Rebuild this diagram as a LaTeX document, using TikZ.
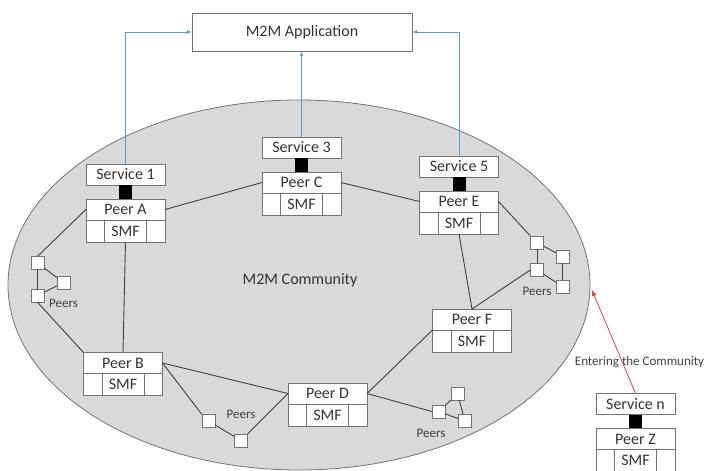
\documentclass[tikz,border=0pt]{standalone}
\usepackage{fontspec}
\setmainfont{Carlito}
\usepackage{tikz}
\usetikzlibrary{positioning,arrows.meta,shapes.geometric,calc}
\definecolor{appblue}{HTML}{5B9BD5}
\definecolor{entred}{HTML}{C0504D}
\tikzset{
  svc/.style={draw=black!55,fill=white,minimum width=79pt,minimum height=21pt,inner sep=0pt,outer sep=0pt,font=\fontsize{16}{18}\selectfont,text=black!80},
  prow/.style={svc},
  smfrow/.style={draw=black!55,fill=white,minimum width=79pt,minimum height=22pt,inner sep=0pt,outer sep=0pt},
  smf/.style={draw=black!55,minimum width=42pt,minimum height=22pt,inner sep=0pt,outer sep=0pt,font=\fontsize{16}{18}\selectfont,text=black!80},
  plug/.style={fill=black,minimum width=13pt,minimum height=14pt,inner sep=0pt,outer sep=0pt},
  sq/.style={draw=black!55,fill=white,minimum size=13pt,inner sep=0pt},
  lnk/.style={black!75,line width=0.9pt},
  up/.style={-{Latex[length=5pt,width=4pt]},appblue,line width=0.8pt},
  enter/.style={-{Latex[length=6pt,width=5pt]},entred,line width=0.8pt},
  tag/.style={font=\fontsize{13}{15}\selectfont,text=black!75}
}
\begin{document}
\begin{tikzpicture}[x=1pt,y=-1pt]
\useasboundingbox (0,0) rectangle (704,471);

% community
\node[ellipse,draw=black!55,fill=black!15,line width=0.8pt,minimum width=582pt,minimum height=370pt] (comm) at (299,285) {};
\node[font=\fontsize{16}{18}\selectfont,text=black!80] (commlbl) at (300,280) {M2M Community};

% application
\node[draw=black!55,fill=white,minimum width=220pt,minimum height=38pt,font=\fontsize{16}{18}\selectfont,text=black!80] (app) at (302,32) {M2M Application};

% peers with a service
\node[svc] (sv1) at (125.5,174.5) {Service 1};
\node[plug, below=0pt of sv1] (k1) {};
\node[prow, below=0pt of k1] (pa) {Peer A};
\node[smfrow, below=0pt of pa] (pas) {};
\node[smf] (pam) at (pas) {SMF};

\node[svc] (sv3) at (301.5,147.5) {Service 3};
\node[plug, below=0pt of sv3] (k3) {};
\node[prow, below=0pt of k3] (pc) {Peer C};
\node[smfrow, below=0pt of pc] (pcs) {};
\node[smf] (pcm) at (pcs) {SMF};

\node[svc] (sv5) at (459,166.5) {Service 5};
\node[plug, below=0pt of sv5] (k5) {};
\node[prow, below=0pt of k5] (pe) {Peer E};
\node[smfrow, below=0pt of pe] (pes) {};
\node[smf] (pem) at (pes) {SMF};

\node[svc] (svn) at (635.5,404) {Service n};
\node[plug, below=0pt of svn] (kn) {};
\node[prow, below=0pt of kn] (pz) {Peer Z};
\node[smfrow, below=0pt of pz] (pzs) {};
\node[smf] (pzm) at (pzs) {SMF};

% plain peers
\node[prow] (pb) at (123,363) {Peer B};
\node[smfrow, below=0pt of pb] (pbs) {};
\node[smf] (pbm) at (pbs) {SMF};

\node[prow] (pd) at (327.5,393.5) {Peer D};
\node[smfrow, below=0pt of pd] (pds) {};
\node[smf] (pdm) at (pds) {SMF};

\node[prow] (pf) at (472,319.5) {Peer F};
\node[smfrow, below=0pt of pf] (pfs) {};
\node[smf] (pfm) at (pfs) {SMF};

% small peer groups
\node[sq] (ga1) at (37.5,263) {};
\node[sq] (ga2) at (37.5,295.5) {};
\node[sq] (ga3) at (63.5,282.5) {};
\node[tag] (gal) at (63.5,303) {Peers};

\node[sq] (gb1) at (208.5,421) {};
\node[sq] (gb2) at (241,440.5) {};
\node[tag] (gbl) at (241,414) {Peers};

\node[sq] (gc1) at (438.5,411.5) {};
\node[sq] (gc2) at (457.5,394) {};
\node[sq] (gc3) at (465,421) {};
\node[tag] (gcl) at (431,433) {Peers};

\node[sq] (gd1) at (537,242.5) {};
\node[sq] (gd2) at (562.5,256.5) {};
\node[sq] (gd3) at (537,270) {};
\node[sq] (gd4) at (562.5,286.5) {};
\node[tag] (gdl) at (537,291) {Peers};

% links
\draw[lnk] (pa.east) -- (pc.west);
\draw[lnk] (pc.east) -- (pe.west);
\draw[lnk] (pa.west) -- (ga1.north);
\draw[lnk] (ga1) -- (ga2);
\draw[lnk] (ga1) -- (ga3);
\draw[lnk] (ga2) -- (ga3);
\draw[lnk] (ga2.south) -- (pb.north west);
\draw[lnk] (pas.south) -- (pb.north);
\draw[lnk] (pb.east) -- (pd.west);
\draw[lnk] (pb.east) -- (gb1.north west);
\draw[lnk] (gb1) -- (gb2);
\draw[lnk] (gb2.north east) -- (pd.west);
\draw[lnk] (pd.east) -- (pf.south west);
\draw[lnk] (pd.east) -- (gc1.west);
\draw[lnk] (gc1) -- (gc2);
\draw[lnk] (gc1) -- (gc3);
\draw[lnk] (gc2) -- (gc3);
\draw[lnk] (pes.south) -- (pf.north);
\draw[lnk] (pe.east) -- (gd1.north west);
\draw[lnk] (gd1) -- (gd2);
\draw[lnk] (gd1) -- (gd3);
\draw[lnk] (gd3) -- (gd4);
\draw[lnk] (gd2) -- (gd4);
\draw[lnk] (gd3.west) -- (pf.north);

% services to application
\draw[up] (sv1.north) |- (app.west);
\draw[up] (sv5.north) |- (app.east);
\draw[up] (sv3.north) -- (sv3.north |- app.south);

% newcomer
\node[tag] (entl) at (639.5,362) {Entering the Community};
\coordinate (edge) at (592,290);
\draw[enter] (svn.north) -- (edge);
\end{tikzpicture}
\end{document}
